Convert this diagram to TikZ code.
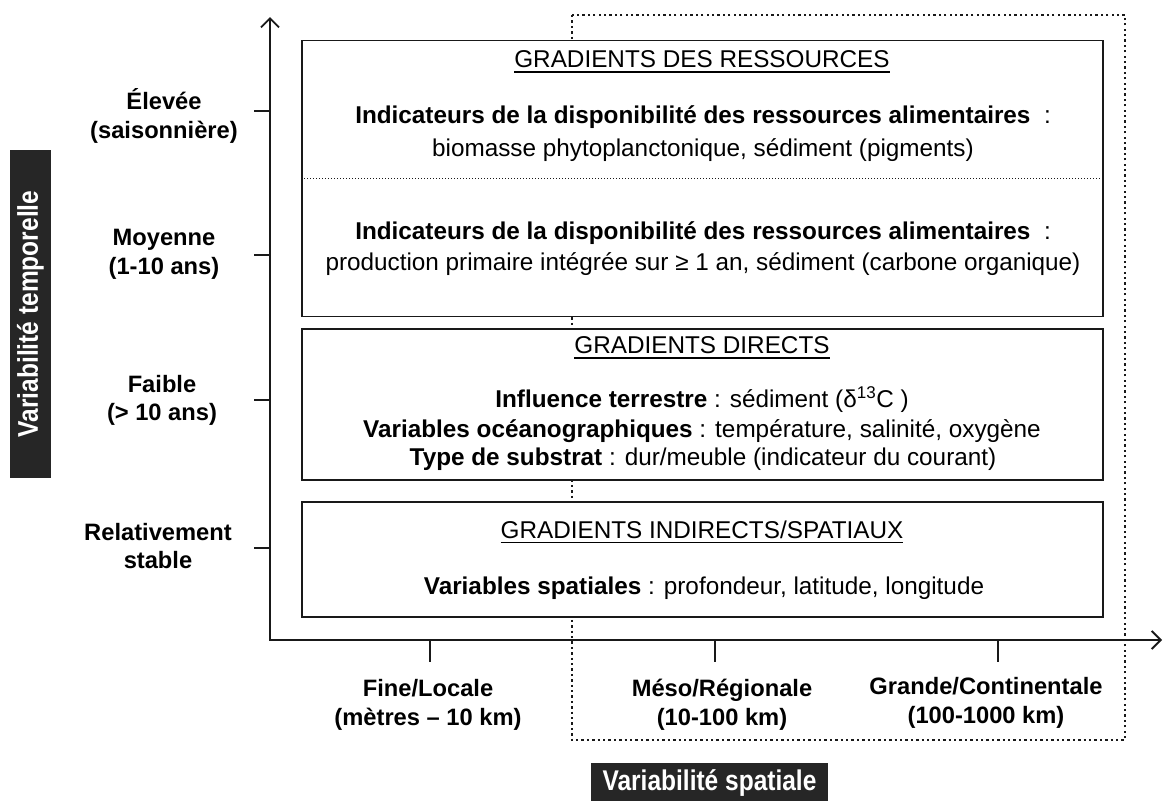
\documentclass[tikz,border=0pt]{standalone}
\usepackage{fontspec}
\setmainfont{Liberation Sans}
\usetikzlibrary{arrows.meta}
\tikzstyle{gbox}=[rectangle, draw=black!90, line width=1.7pt, fill=white, minimum width=801pt, inner sep=0pt]
\tikzstyle{hd}=[inner sep=0pt]
\tikzstyle{txt}=[inner sep=0pt]
\tikzstyle{lab}=[inner sep=0pt, align=center, font=\bfseries\fontsize{23.7}{28.5}\selectfont]
\tikzstyle{dark}=[rectangle, fill=black!85, inner sep=0pt, text=white, font=\bfseries\fontsize{28.5}{30}\selectfont]
\tikzstyle{axis}=[line width=1.9pt, draw=black!90, {Straight Barb[length=9pt,width=18pt]}-{Straight Barb[length=9pt,width=18pt]}]
\tikzstyle{tick}=[line width=1.9pt, draw=black!90]
\tikzstyle{zone}=[line width=2.3pt, draw=black!90, dash pattern=on 2.3pt off 3.1pt]
\tikzstyle{sep}=[line width=1pt, draw=black!90, dash pattern=on 1pt off 2pt]
\newcommand{\ulin}[1]{\setbox0\hbox{#1}\rlap{\rule[-5pt]{\wd0}{1.6pt}}\box0}
\begin{document}
\begin{tikzpicture}[x=1pt, y=-1pt, font=\fontsize{24.3}{28.5}\selectfont]
				\useasboundingbox (0,0) rectangle (1163,801);
				
				%The spatial zone (meso to continental)
				\draw[zone] (572,15) rectangle (1125,740);
				
				%The three boxes
				\draw (702.5,178.5) node[gbox, minimum height=276pt] (res) {};
				\draw (702.5,404.5) node[gbox, minimum height=151pt] (dir) {};
				\draw (702.5,559.5) node[gbox, minimum height=115pt] (ind) {};
				\draw[sep] (res.west) -- (res.east);
				
				%The axes
				\coordinate (o) at (270,640);
				\coordinate (ytop) at (270,17);
				\coordinate (xend) at (1162,640);
				\draw[axis] (ytop) -- (o) -- (xend);
				\draw[tick] (254,111) -- (270,111);
				\draw[tick] (254,255) -- (270,255);
				\draw[tick] (254,400) -- (270,400);
				\draw[tick] (254,548) -- (270,548);
				\draw[tick] (430,640) -- (430,662);
				\draw[tick] (715,640) -- (715,662);
				\draw[tick] (998,640) -- (998,662);
				
				%The time scale
				\draw (164,116) node[lab] (high) {Élevée\\(saisonnière)};
				\draw (164,254.5) node[lab] (mid) {Moyenne\\(1-10 ans)};
				\draw (162,400.5) node[lab] (low) {Faible\\(> 10 ans)};
				\draw (158,546) node[lab] (stab) {Relativement\\stable};
				
				%The space scale
				\draw (428,705) node[lab] (fine) {Fine/Locale\\(mètres – 10 km)};
				\draw (722,705) node[lab] (meso) {Méso/Régionale\\(10-100 km)};
				\draw (986,703) node[lab] (big) {Grande/Continentale\\(100-1000 km)};
				
				%The axis titles
				\draw (30.5,314) node[dark, rotate=90, minimum width=328pt, minimum height=41pt] (vt) {\scalebox{0.86}[1]{Variabilité temporelle}};
				\draw (709.5,783) node[dark, minimum width=237pt, minimum height=40pt] (vs) {\scalebox{0.86}[1]{Variabilité spatiale}};
				
				%Resources
				\draw (702,62) node[hd] (t1) {\ulin{GRADIENTS DES RESSOURCES}};
				\draw (703,117) node[txt] (i1) {\textbf{Indicateurs de la disponibilité des ressources alimentaires}\ \ :};
				\draw (703,150) node[txt] (v1) {biomasse phytoplanctonique, sédiment (pigments)};
				\draw (703,233) node[txt] (i2) {\textbf{Indicateurs de la disponibilité des ressources alimentaires}\ \ :};
				\draw (703,264) node[txt] (v2) {production primaire intégrée sur ≥ 1 an, sédiment (carbone organique)};
				
				%Direct gradients
				\draw (702,348) node[hd] (t2) {\ulin{GRADIENTS DIRECTS}};
				\draw (702,400) node[txt] (v3) {\textbf{Influence terrestre} : sédiment (δ\textsuperscript{13}C )};
				\draw (702,431) node[txt] (v4) {\textbf{Variables océanographiques} : température, salinité, oxygène};
				\draw (703,459) node[txt] (v5) {\textbf{Type de substrat} : dur/meuble (indicateur du courant)};
				
				%Indirect gradients
				\draw (702,532) node[hd] (t3) {\ulin{GRADIENTS INDIRECTS/SPATIAUX}};
				\draw (704,588) node[txt] (v6) {\textbf{Variables spatiales} : profondeur, latitude, longitude};
\end{tikzpicture}
\end{document}
